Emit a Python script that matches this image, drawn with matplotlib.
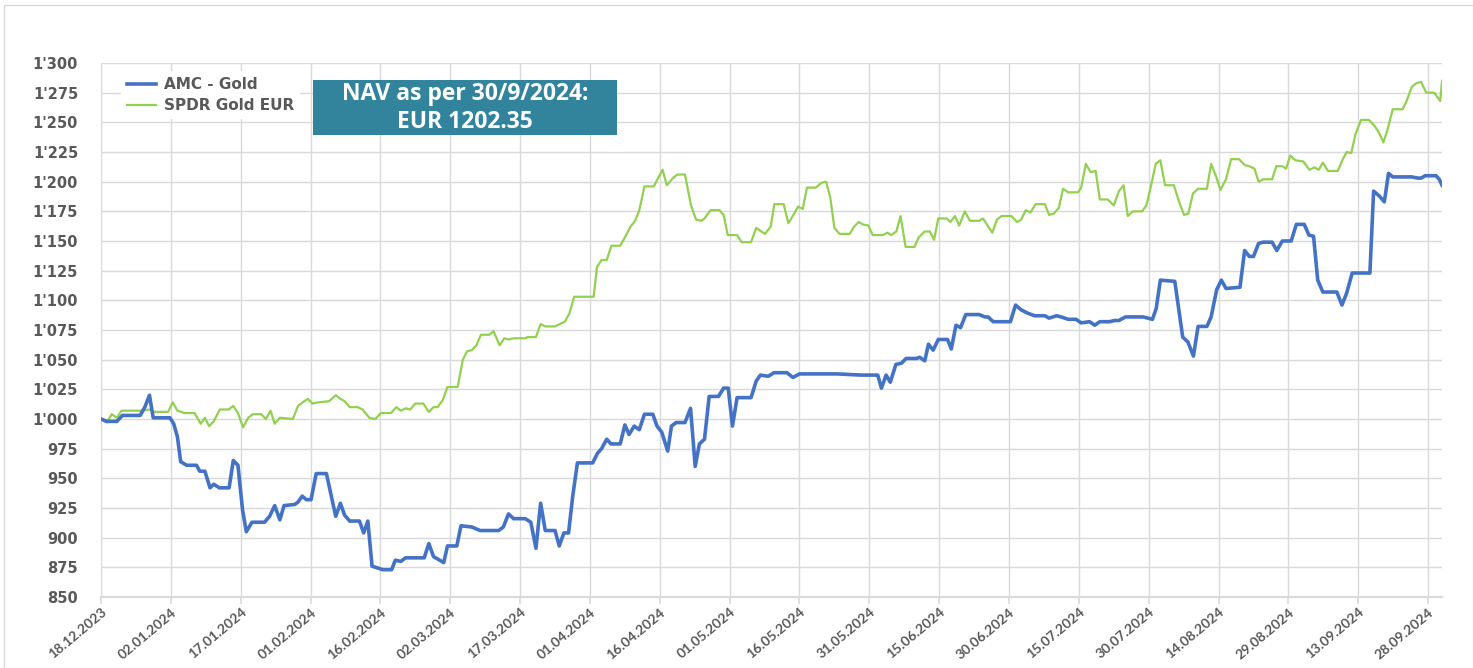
import matplotlib
matplotlib.use("Agg")
import matplotlib.pyplot as plt
from matplotlib.patches import Rectangle
from matplotlib.ticker import FuncFormatter

# days since 18.12.2023 (vertices)
amc_day = [0, 1.2, 3.4, 4.6, 8.4, 9.4, 10.4, 11.2, 14.8, 15.6, 16.4, 17.1, 18.4, 20.5, 21.2, 22.3,
           23.4, 24.2, 25.4, 27.5, 28.4, 29.4, 30.4, 31.2, 32.4, 35.1, 36.2, 37.3, 38.4, 39.3, 41.6,
           42.3, 43.2, 44.1, 45.1, 46.2, 48.4, 49.4, 50.4, 51.4, 52.3, 53.4, 55.5, 56.4, 57.3, 58.2,
           60.5, 62.4, 63.2, 64.4, 65.4, 69.4, 70.4, 71.4, 73.6, 74.4, 76.4, 77.3, 79.6, 81.4, 85.4,
           86.4, 87.5, 88.6, 91.1, 92.3, 93.4, 94.4, 95.4, 97.5, 98.4, 99.4, 100.4, 101.3, 102.3,
           105.6, 106.6, 107.5, 108.6, 109.5, 111.5, 112.5, 113.4, 114.5, 115.6, 116.7, 118.5, 119.4,
           120.4, 121.7, 122.5, 123.5, 125.4, 126.6, 127.6, 128.5, 129.6, 130.6, 132.6, 133.7, 134.7,
           135.6, 136.6, 139.6, 140.7, 141.6, 143.3, 144.5, 147.3, 148.6, 150, 158, 163.2, 166.8,
           167.6, 168.6, 169.5, 170.7, 171.9, 172.9, 175.1, 175.8, 176.9, 177.7, 178.7, 179.8, 181.8,
           182.6, 183.6, 184.6, 185.7, 188.6, 189.8, 190.5, 191.6, 195.3, 196.4, 197.6, 199.1, 200.5,
           202.7, 203.6, 205.2, 206.2, 207.7, 209.4, 210.5, 212.3, 213.4, 214.5, 216.6, 217.7, 218.6,
           220, 221.3, 223.8, 225.8, 226.6, 227.5, 230.6, 232.3, 233.4, 234.6, 235.6, 237.5, 238.4,
           239.6, 240.6, 241.6, 244.6, 245.6, 246.6, 247.5, 248.6, 249.6, 251.5, 252.5, 253.7, 255.6,
           256.7, 258.4, 259.4, 260.4, 261.3, 262.4, 265.4, 266.5, 267.5, 268.7, 272.5, 273.3, 274.5,
           275.6, 276.5, 277.4, 281.5, 282.8, 283.5, 284.4, 286.7, 287.4, 288]
amc_val = [1000, 998, 998, 1003, 1003, 1010, 1020, 1001, 1001, 996, 985, 964, 961, 961, 956, 956,
           942, 945, 942, 942, 965, 961, 923, 905, 913, 913, 918, 927, 915, 927, 928,
           930, 935, 932, 932, 954, 954, 936, 918, 929, 919, 914, 914, 904, 914, 876,
           873, 873, 881, 880, 883, 883, 895, 884, 879, 893, 893, 910, 909, 906, 906,
           909, 920, 916, 916, 913, 891, 929, 906, 906, 893, 904, 904, 935, 963,
           963, 971, 975, 983, 979, 979, 995, 987, 994, 991, 1004, 1004, 994,
           989, 973, 994, 997, 997, 1009, 960, 979, 983, 1019, 1019, 1026, 1026,
           994, 1018, 1018, 1032, 1037, 1036, 1039, 1039, 1035, 1038, 1038, 1037, 1037,
           1026, 1037, 1031, 1046, 1047, 1051, 1051, 1052, 1049, 1063, 1058, 1067, 1067,
           1059, 1079, 1077, 1088, 1088, 1086, 1086, 1082, 1082, 1096, 1092, 1089, 1087,
           1087, 1085, 1087, 1086, 1084, 1084, 1081, 1082, 1079, 1082, 1082, 1083, 1083,
           1086, 1086, 1086, 1084, 1093, 1117, 1116, 1069, 1065, 1053, 1078, 1078, 1086,
           1109, 1117, 1110, 1111, 1142, 1137, 1137, 1148, 1149, 1149, 1142, 1150, 1150,
           1164, 1164, 1155, 1154, 1117, 1107, 1107, 1096, 1106, 1123, 1123, 1192, 1188,
           1183, 1207, 1204, 1204, 1203, 1203, 1205, 1205, 1202, 1197]

spdr_day = [0, 1.2, 2.3, 3.4, 4.4, 8.7, 10.4, 11.2, 14.4, 15.4, 16.4, 18, 20.1, 21.4, 22.3, 23.2,
            24.2, 25.5, 27.4, 28.4, 29.4, 30.5, 31.6, 32.6, 34.4, 35.4, 36.4, 37.3, 38.4, 41.2,
            42.3, 43.3, 44.4, 45.4, 46.6, 49, 50.4, 51.4, 52.3, 53.4, 55.1, 56.2, 57.6, 58.9,
            60.1, 62.3, 63.4, 64.4, 65.4, 66.4, 67.5, 69.2, 70.4, 71.4, 72.3, 73.4, 74.4, 76.6,
            77.7, 78.6, 79.6, 80.6, 81.6, 83.4, 84.3, 85.6, 86.6, 87.5, 88.6, 91.1, 91.6, 93.4,
            94.4, 95.4, 97.5, 99.6, 100.6, 101.6, 105.8, 106.5, 107.5, 108.6, 109.6, 111.5, 112.5,
            113.7, 114.7, 115.6, 116.7, 118.7, 119.5, 120.6, 121.5, 122.8, 123.8, 125.4, 126.7,
            127.8, 128.9, 129.6, 130.9, 132.8, 133.7, 134.6, 136.6, 137.6, 139.6, 140.7, 141.8,
            142.6, 143.8, 144.6, 146.6, 147.6, 148.7, 149.7, 150.7, 151.6, 153.5, 154.7, 155.7,
            156.6, 157.5, 158.6, 160.8, 161.7, 162.7, 163.6, 164.8, 165.7, 167.9, 168.9, 169.7,
            170.8, 171.7, 172.8, 174.7, 175.6, 176.9, 178, 178.9, 179.8, 181.6, 182.4, 183.4,
            184.3, 185.5, 186.6, 188.6, 189.4, 191.4, 192.4, 193.4, 195.5, 196.7, 197.6, 198.6,
            199.6, 200.7, 202.7, 203.6, 204.6, 205.7, 206.6, 207.7, 209.8, 210.5, 211.5, 212.5,
            213.6, 214.5, 216.2, 217.5, 218.6, 219.6, 220.5, 221.6, 223.6, 224.5, 225.3, 226.5,
            227.5, 228.5, 230.4, 231.6, 232.6, 233.5, 234.5, 235.6, 237.5, 238.4, 239.5, 240.4,
            241.6, 242.7, 244.4, 245.6, 246.6, 247.7, 248.6, 249.6, 251.5, 252.4, 253.7, 254.5,
            255.4, 256.5, 258.2, 259.5, 260.6, 261.5, 262.4, 263.5, 265.6, 266.7, 267.5, 268.5,
            269.4, 270.6, 272.3, 273.5, 274.5, 275.4, 276.3, 277.4, 279.5, 280.4, 281.5, 282.5,
            283.5, 284.6, 286.3, 287.6, 288]
spdr_val = [1000, 997, 1004, 1001, 1007, 1007, 1008, 1006, 1006, 1014, 1007, 1005, 1005, 996, 1001, 994,
            998, 1008, 1008, 1011, 1005, 993, 1001, 1004, 1004, 1000, 1007, 996, 1001, 1000,
            1011, 1014, 1017, 1013, 1014, 1015, 1020, 1017, 1015, 1010, 1010, 1008, 1001, 1000,
            1005, 1005, 1010, 1007, 1009, 1008, 1013, 1013, 1006, 1010, 1010, 1016, 1027, 1027,
            1050, 1057, 1058, 1062, 1071, 1071, 1074, 1062, 1068, 1067, 1068, 1068, 1069, 1069,
            1080, 1078, 1078, 1082, 1089, 1103, 1103, 1128, 1134, 1134, 1146, 1146, 1153,
            1162, 1167, 1176, 1196, 1196, 1202, 1210, 1197, 1203, 1206, 1206, 1180,
            1168, 1167, 1169, 1176, 1176, 1172, 1155, 1155, 1149, 1149, 1161, 1158,
            1156, 1162, 1181, 1181, 1165, 1172, 1179, 1177, 1195, 1195, 1199, 1200,
            1187, 1161, 1156, 1156, 1162, 1166, 1164, 1163, 1155, 1155, 1157, 1155,
            1158, 1171, 1145, 1145, 1153, 1158, 1158, 1151, 1169, 1169, 1166, 1171,
            1163, 1175, 1167, 1167, 1169, 1157, 1168, 1171, 1171, 1166, 1168, 1176,
            1174, 1181, 1181, 1172, 1173, 1178, 1194, 1191, 1191, 1195, 1215, 1208,
            1209, 1185, 1185, 1180, 1192, 1197, 1171, 1175, 1175, 1180, 1193, 1215,
            1218, 1197, 1197, 1182, 1172, 1173, 1190, 1194, 1194, 1215, 1204, 1193,
            1202, 1219, 1219, 1214, 1213, 1211, 1200, 1202, 1202, 1213, 1213, 1211,
            1222, 1218, 1217, 1210, 1212, 1210, 1216, 1209, 1209, 1219, 1225, 1224,
            1240, 1252, 1252, 1247, 1241, 1233, 1244, 1261, 1261, 1268, 1280, 1283,
            1284, 1275, 1275, 1268, 1285]

tick_days = list(range(0, 286, 15))
tick_labels = ['18.12.2023', '02.01.2024', '17.01.2024', '01.02.2024', '16.02.2024', '02.03.2024',
               '17.03.2024', '01.04.2024', '16.04.2024', '01.05.2024', '16.05.2024', '31.05.2024',
               '15.06.2024', '30.06.2024', '15.07.2024', '30.07.2024', '14.08.2024', '29.08.2024',
               '13.09.2024', '28.09.2024']

grey = '#595959'
grid_c = '#d9d9d9'

fig = plt.figure(figsize=(14.73, 6.68), dpi=100)
ax = fig.add_axes([0.0686, 0.1063, 0.9104, 0.7994])

ax.plot(amc_day, amc_val, color='#4472C4', lw=2.6, label='AMC - Gold', zorder=3)
ax.plot(spdr_day, spdr_val, color='#92D050', lw=1.6, label='SPDR Gold EUR', zorder=2)

ax.set_xlim(0, 288)
ax.set_ylim(850, 1300)
ax.set_yticks(range(850, 1301, 25))
ax.yaxis.set_major_formatter(FuncFormatter(lambda v, p: f"{int(v):,}".replace(',', "'")))
ax.set_xticks(tick_days)
ax.set_xticklabels(tick_labels, rotation=40, ha='right', rotation_mode='anchor',
                   fontsize=10, fontweight='bold', color=grey, family='Lato')
for lab in ax.get_yticklabels():
    lab.set_fontweight('bold')
ax.tick_params(axis='y', length=0, labelsize=10.5, labelcolor=grey, pad=16.5)
ax.tick_params(axis='x', length=5, color=grid_c, width=1.2, pad=1.5)

ax.grid(True, color=grid_c, lw=1.0)
ax.set_axisbelow(True)
for s in ['top', 'right', 'left']:
    ax.spines[s].set_visible(False)
ax.spines['bottom'].set_color(grid_c)
ax.spines['bottom'].set_linewidth(1.5)

leg = ax.legend(loc='upper left', bbox_to_anchor=(0.015, 0.985), frameon=True, fancybox=False,
                edgecolor='none', facecolor='white', framealpha=1, handlelength=1.9,
                handletextpad=0.5, labelspacing=0.4, borderaxespad=0,
                prop={'weight': 'bold', 'size': 11})
for t in leg.get_texts():
    t.set_color(grey)

# NAV annotation box
fig.patches.append(Rectangle((313 / 1473, 1 - 135 / 668), 304 / 1473, 55 / 668,
                             transform=fig.transFigure, facecolor='#31849B', edgecolor='none', zorder=5))
fig.text(465 / 1473, 1 - 108 / 668, 'NAV as per 30/9/2024:\nEUR 1202.35', ha='center', va='center',
         color='white', fontsize=16.5, fontweight='bold', family='Open Sans', linespacing=1.25, zorder=6)

# outer frame
fig.patches.append(Rectangle((4 / 1473, -0.01), 1.2, 1 - 5 / 668 + 0.01, transform=fig.transFigure,
                             facecolor='none', edgecolor=grid_c, lw=1.0))

fig.savefig('out.png', dpi=100)
